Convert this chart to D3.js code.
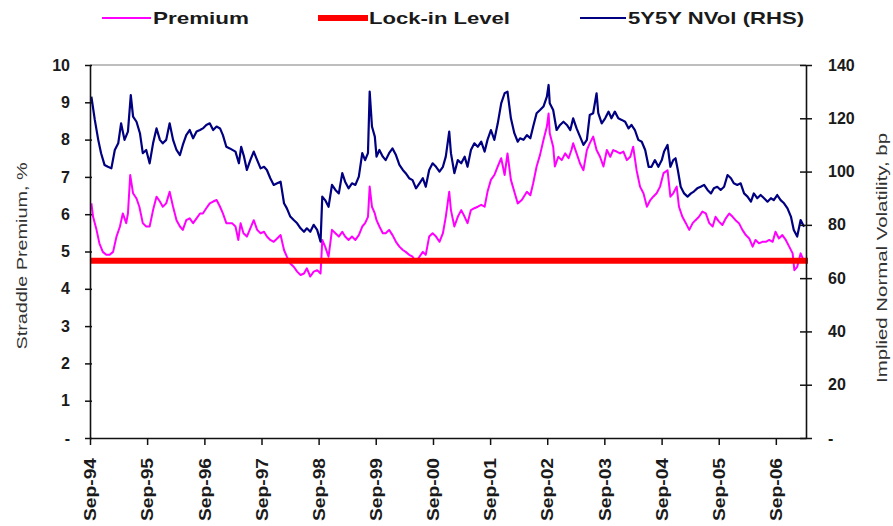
<!DOCTYPE html>
<html><head><meta charset="utf-8">
<script src="https://cdn.jsdelivr.net/npm/d3@7"></script>
<style>
body{margin:0;background:#fff}
svg{display:block}
text{font-family:"Liberation Sans",Arial,sans-serif}
</style>
</head><body>
<svg id="chart" width="893" height="526"></svg>
<script>
// ---- DATA (decimal year, value) ----
const nvolSeries = [
[1994.69,128.1],[1994.75,119.4],[1994.81,111.9],[1994.86,106.9],[1994.92,102.5],[1994.98,101.8],[1995.04,101.2],[1995.10,108.1],[1995.16,110.6],[1995.21,118.1],[1995.27,111.9],[1995.33,115.0],[1995.38,128.7],[1995.42,120.6],[1995.48,118.7],[1995.54,114.4],[1995.59,106.9],[1995.65,108.1],[1995.71,103.1],[1995.77,110.6],[1995.83,116.2],[1995.89,111.9],[1995.94,110.6],[1996.00,111.9],[1996.06,118.1],[1996.12,111.9],[1996.18,108.1],[1996.24,106.2],[1996.29,110.0],[1996.35,113.7],[1996.41,115.6],[1996.47,112.5],[1996.53,115.0],[1996.59,115.6],[1996.64,116.2],[1996.70,117.5],[1996.76,118.1],[1996.82,115.6],[1996.88,116.9],[1996.94,116.2],[1996.99,113.7],[1997.05,109.3],[1997.11,108.7],
[1997.21,107.5],[1997.27,103.1],[1997.31,109.3],[1997.36,105.6],[1997.41,100.6],[1997.47,104.3],[1997.53,107.5],[1997.59,104.3],[1997.65,101.2],[1997.71,101.8],[1997.76,100.6],[1997.82,97.5],[1997.88,95.0],[1997.94,95.6],[1998.00,96.2],[1998.06,88.1],[1998.11,86.2],[1998.17,83.1],[1998.23,81.8],[1998.29,80.6],[1998.35,78.7],[1998.41,77.4],[1998.46,78.7],[1998.52,77.4],[1998.58,80.0],[1998.64,78.1],[1998.70,73.7],[1998.73,90.6],[1998.78,89.3],[1998.84,86.8],[1998.90,95.0],[1998.96,93.1],[1999.02,91.8],[1999.08,99.4],[1999.13,96.2],[1999.19,93.7],[1999.25,95.6],[1999.31,95.0],[1999.37,98.1],[1999.43,106.9],[1999.48,104.3],[1999.53,106.9],[1999.56,130.0],[1999.60,116.9],[1999.65,113.1],[1999.68,105.6],
[1999.73,108.1],[1999.79,105.6],[1999.84,104.3],[1999.90,106.9],[1999.96,108.7],[2000.02,106.2],[2000.08,102.5],[2000.14,100.6],[2000.19,99.4],[2000.25,97.5],[2000.31,96.8],[2000.37,93.7],[2000.43,95.6],[2000.49,97.5],[2000.54,94.3],[2000.60,100.6],[2000.66,103.1],[2000.72,101.8],[2000.78,100.0],[2000.84,101.8],[2000.89,105.6],[2000.95,115.0],[2000.98,106.9],[2001.04,99.4],[2001.10,104.3],[2001.16,103.1],[2001.22,105.6],[2001.27,101.8],[2001.33,108.1],[2001.39,110.6],[2001.45,109.3],[2001.51,111.2],[2001.57,107.5],[2001.62,111.9],[2001.68,115.6],[2001.74,111.9],[2001.80,118.1],[2001.86,125.6],[2001.92,129.4],[2001.97,130.0],[2002.03,120.0],[2002.09,114.4],[2002.15,111.2],
[2002.19,112.5],[2002.25,111.9],[2002.31,113.7],[2002.37,112.5],[2002.42,116.9],[2002.48,121.9],[2002.54,123.1],[2002.60,124.4],[2002.66,128.1],[2002.69,132.5],[2002.71,125.6],[2002.77,123.1],[2002.83,115.6],[2002.89,117.5],[2002.95,118.7],[2003.01,117.5],[2003.07,115.6],[2003.12,120.0],[2003.18,116.2],[2003.24,113.1],[2003.30,110.0],[2003.36,111.9],[2003.41,121.2],[2003.47,121.9],[2003.53,129.4],[2003.56,121.9],[2003.62,118.1],[2003.68,120.0],[2003.74,122.5],[2003.79,120.0],[2003.85,122.5],[2003.91,120.0],[2003.97,119.4],[2004.03,118.7],[2004.09,116.2],[2004.14,117.5],[2004.20,115.6],[2004.26,111.9],[2004.32,111.2],[2004.38,108.1],[2004.44,101.8],[2004.49,101.8],[2004.55,104.3],[2004.61,101.8],[2004.67,104.3],
[2004.71,107.5],[2004.77,110.0],[2004.82,101.8],[2004.87,104.3],[2004.91,105.0],[2004.95,100.6],[2005.00,94.3],[2005.06,91.8],[2005.12,90.6],[2005.18,91.8],[2005.23,92.5],[2005.29,93.7],[2005.35,94.3],[2005.41,95.0],[2005.47,93.1],[2005.53,91.8],[2005.58,93.7],[2005.64,94.3],[2005.70,93.1],[2005.76,94.3],[2005.82,98.7],[2005.88,97.5],[2005.93,95.6],[2005.99,95.0],[2006.05,95.6],[2006.11,91.8],[2006.17,90.6],[2006.23,88.7],[2006.28,91.8],[2006.34,90.0],[2006.40,91.2],[2006.46,90.0],[2006.52,88.7],[2006.58,90.0],[2006.63,89.3],[2006.69,91.2],[2006.75,89.3],[2006.81,88.1],[2006.87,86.2],[2006.93,83.1],[2006.98,78.1],[2007.04,75.6],[2007.10,81.8],[2007.16,79.3]
];
const premiumSeries = [
[1994.69,6.29],[1994.72,5.93],[1994.78,5.58],[1994.83,5.22],[1994.89,4.99],[1994.95,4.91],[1995.01,4.91],[1995.07,4.99],[1995.13,5.40],[1995.19,5.67],[1995.24,6.02],[1995.30,5.76],[1995.33,6.02],[1995.37,7.05],[1995.42,6.56],[1995.48,6.42],[1995.53,6.20],[1995.59,5.76],[1995.65,5.67],[1995.71,5.67],[1995.77,6.11],[1995.83,6.47],[1995.89,6.34],[1995.94,6.20],[1996.00,6.29],[1996.06,6.60],[1996.12,6.20],[1996.18,5.84],[1996.24,5.67],[1996.29,5.58],[1996.35,5.84],[1996.41,5.89],[1996.47,5.76],[1996.53,5.89],[1996.59,6.02],[1996.64,6.02],[1996.70,6.16],[1996.76,6.29],[1996.82,6.34],[1996.88,6.38],[1996.94,6.20],[1996.99,6.02],[1997.05,5.76],[1997.11,5.76],
[1997.15,5.76],[1997.21,5.67],[1997.26,5.31],[1997.30,5.76],[1997.35,5.49],[1997.41,5.40],[1997.47,5.62],[1997.53,5.84],[1997.59,5.58],[1997.65,5.49],[1997.71,5.53],[1997.76,5.40],[1997.82,5.31],[1997.88,5.26],[1997.94,5.35],[1998.00,5.44],[1998.06,5.04],[1998.11,4.86],[1998.17,4.68],[1998.23,4.59],[1998.29,4.46],[1998.35,4.37],[1998.41,4.41],[1998.46,4.55],[1998.52,4.33],[1998.58,4.46],[1998.64,4.50],[1998.70,4.41],[1998.73,5.31],[1998.78,5.13],[1998.84,4.86],[1998.90,5.58],[1998.96,5.49],[1999.02,5.40],[1999.08,5.53],[1999.13,5.40],[1999.19,5.31],[1999.25,5.40],[1999.31,5.31],[1999.37,5.44],[1999.43,5.67],[1999.48,5.76],[1999.53,5.93],[1999.56,6.74],[1999.60,6.20],[1999.65,6.02],
[1999.68,5.84],[1999.73,5.67],[1999.79,5.49],[1999.84,5.49],[1999.90,5.58],[1999.96,5.44],[2000.02,5.26],[2000.08,5.13],[2000.14,5.04],[2000.19,4.99],[2000.25,4.91],[2000.31,4.86],[2000.37,4.73],[2000.43,4.86],[2000.49,4.99],[2000.54,4.91],[2000.60,5.40],[2000.66,5.49],[2000.72,5.40],[2000.78,5.26],[2000.84,5.49],[2000.89,5.93],[2000.95,6.60],[2000.98,6.11],[2001.04,5.67],[2001.10,5.93],[2001.16,6.11],[2001.22,5.93],[2001.27,5.76],[2001.33,6.11],[2001.39,6.16],[2001.45,6.20],[2001.51,6.25],[2001.57,6.20],[2001.62,6.60],[2001.68,6.92],[2001.74,7.05],[2001.80,7.28],[2001.86,7.50],[2001.92,7.05],[2001.97,7.63],[2002.03,6.92],[2002.09,6.60],[2002.15,6.29],
[2002.22,6.38],[2002.31,6.60],[2002.37,6.51],[2002.42,6.83],[2002.48,7.28],[2002.54,7.59],[2002.60,7.99],[2002.66,8.35],[2002.69,8.70],[2002.71,8.17],[2002.77,7.81],[2002.80,7.28],[2002.86,7.54],[2002.92,7.45],[2002.98,7.63],[2003.04,7.50],[2003.09,7.72],[2003.12,7.90],[2003.18,7.63],[2003.24,7.36],[2003.30,7.18],[2003.36,7.72],[2003.41,7.90],[2003.47,8.08],[2003.53,7.72],[2003.59,7.54],[2003.65,7.28],[2003.71,7.72],[2003.77,7.54],[2003.82,7.72],[2003.88,7.68],[2003.94,7.63],[2004.00,7.68],[2004.06,7.45],[2004.12,7.54],[2004.17,7.81],[2004.23,7.18],[2004.29,6.74],[2004.35,6.56],[2004.41,6.20],[2004.47,6.38],[2004.52,6.47],[2004.58,6.56],[2004.64,6.74],[2004.70,7.10],
[2004.77,7.18],[2004.82,6.47],[2004.87,6.56],[2004.93,6.74],[2004.97,6.20],[2005.03,5.93],[2005.09,5.76],[2005.15,5.58],[2005.21,5.76],[2005.26,5.84],[2005.32,5.93],[2005.38,6.07],[2005.44,6.02],[2005.50,5.76],[2005.56,5.67],[2005.61,5.93],[2005.67,5.80],[2005.73,5.71],[2005.79,5.89],[2005.85,6.02],[2005.91,5.93],[2005.96,5.84],[2006.02,5.76],[2006.08,5.58],[2006.14,5.44],[2006.20,5.35],[2006.26,5.13],[2006.31,5.31],[2006.37,5.22],[2006.43,5.26],[2006.49,5.26],[2006.55,5.31],[2006.61,5.26],[2006.66,5.53],[2006.72,5.35],[2006.78,5.44],[2006.84,5.31],[2006.90,5.13],[2006.96,4.95],[2006.99,4.50],[2007.04,4.59],[2007.10,4.95],[2007.15,4.77]
];
const lockInLevel = 4.75;
const xTickYears = [1994,1995,1996,1997,1998,1999,2000,2001,2002,2003,2004,2005,2006];
const xTickLabels = ["Sep-94","Sep-95","Sep-96","Sep-97","Sep-98","Sep-99","Sep-00","Sep-01","Sep-02","Sep-03","Sep-04","Sep-05","Sep-06"];
const leftTicks = [0,1,2,3,4,5,6,7,8,9,10];
const rightTicks = [0,20,40,60,80,100,120,140];
const legendLabels = ["Premium","Lock-in Level","5Y5Y NVol (RHS)"];
const xDomainYears = [1994.666, 2007.194];

// ---- helpers ----
function toDate(y){
  const yr = Math.floor(y);
  const s = new Date(yr,0,1), e = new Date(yr+1,0,1);
  return new Date(+s + (y-yr)*(e-s));
}

const svg = d3.select("#chart");
const L = 90, R = 806, T = 65, B = 438;

const x = d3.scaleTime().domain([new Date(1994,8,1), toDate(xDomainYears[1])]).range([L,R]);
const yL = d3.scaleLinear().domain([0,10]).range([B,T]);
const yR = d3.scaleLinear().domain([0,140]).range([B,T]);

// top frame line
svg.append("line").attr("x1",L).attr("x2",R).attr("y1",T).attr("y2",T)
  .attr("stroke","#a8a8a8").attr("stroke-width",1.5);

// series
const linePrem = d3.line().x(d=>x(toDate(d[0]))).y(d=>yL(d[1]));
const lineNvol = d3.line().x(d=>x(toDate(d[0]))).y(d=>yR(d[1]));

svg.append("path").datum(premiumSeries).attr("d",linePrem)
  .attr("fill","none").attr("stroke","#ff00ff").attr("stroke-width",2).attr("stroke-linejoin","round");

svg.append("line").attr("x1",L).attr("x2",R+2).attr("y1",yL(lockInLevel)).attr("y2",yL(lockInLevel))
  .attr("stroke","#ff0000").attr("stroke-width",6);

svg.append("path").datum(nvolSeries).attr("d",lineNvol)
  .attr("fill","none").attr("stroke","#000080").attr("stroke-width",2.2).attr("stroke-linejoin","round");

// axes
const fmt0 = d => d===0 ? "-" : d;
const gL = svg.append("g").attr("transform",`translate(${L},0)`)
  .call(d3.axisLeft(yL).tickValues(leftTicks).tickSize(5).tickSizeOuter(0).tickPadding(15).tickFormat(fmt0));
gL.selectAll(".tick line").attr("x1",2);
const gR = svg.append("g").attr("transform",`translate(${R},0)`)
  .call(d3.axisRight(yR).tickValues(rightTicks).tickSize(6).tickSizeOuter(0).tickPadding(16).tickFormat(fmt0));
gR.selectAll(".tick line").attr("x1",-6);
const gB = svg.append("g").attr("transform",`translate(0,${B})`)
  .call(d3.axisBottom(x).tickValues(xTickYears.map(y=>new Date(y,8,1))).tickSize(7).tickSizeOuter(0)
    .tickFormat((d,i)=>xTickLabels[i]));

[gL,gR,gB].forEach(g=>{
  g.select(".domain").attr("stroke","#111").attr("stroke-width",1.6);
  g.selectAll(".tick line").attr("stroke","#111").attr("stroke-width",1.5);
  g.selectAll("text").attr("fill","#1a1a1a").style("font-size","16px").style("font-weight","bold");
});
gB.selectAll("text")
  .attr("transform","rotate(-90)").attr("text-anchor","end")
  .attr("x",-20).attr("y",0).attr("dy","0.36em")
  .style("font-size","16px")
  .attr("textLength",63).attr("lengthAdjust","spacingAndGlyphs");

// axis titles
svg.append("text").attr("transform","translate(22,256) rotate(-90)")
  .attr("text-anchor","middle").attr("dy","0.35em").attr("fill","#333")
  .style("font-size","15px").attr("textLength",187).attr("lengthAdjust","spacingAndGlyphs")
  .text("Straddle Premium, %");
svg.append("text").attr("transform","translate(882,258) rotate(-90)")
  .attr("text-anchor","middle").attr("dy","0.35em").attr("fill","#333")
  .style("font-size","15px").attr("textLength",250).attr("lengthAdjust","spacingAndGlyphs")
  .text("Implied Normal Volatility, bp");

// legend
const legendItems = [
  {label:legendLabels[0], color:"#ff00ff", w:2, x0:102, x1:151, tx:153, tl:96},
  {label:legendLabels[1], color:"#ff0000", w:6, x0:318, x1:368, tx:369, tl:141},
  {label:legendLabels[2], color:"#000080", w:2, x0:580, x1:626, tx:628, tl:176}
];
const lg = svg.append("g");
legendItems.forEach(it=>{
  lg.append("line").attr("x1",it.x0).attr("x2",it.x1).attr("y1",18).attr("y2",18)
    .attr("stroke",it.color).attr("stroke-width",it.w);
  lg.append("text").attr("x",it.tx).attr("y",18).attr("dy","0.36em")
    .attr("fill","#1a1a1a").style("font-size","17px").style("font-weight","bold")
    .attr("textLength",it.tl).attr("lengthAdjust","spacingAndGlyphs").text(it.label);
});
</script>
</body></html>
